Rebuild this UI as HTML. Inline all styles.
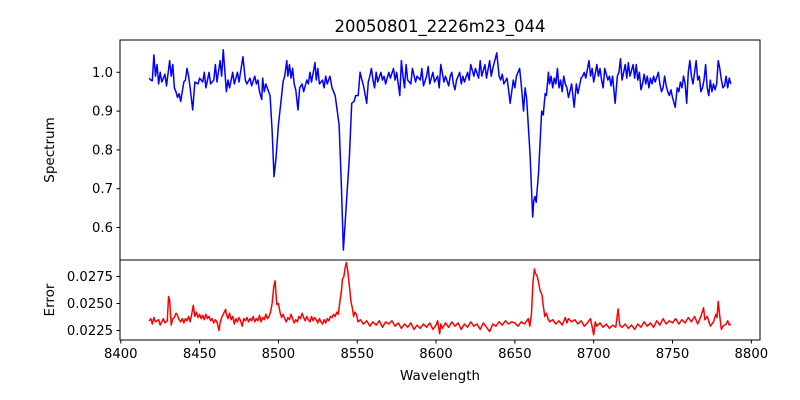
<!DOCTYPE html>
<html><head><meta charset="utf-8"><style>
html,body{margin:0;padding:0;background:#fff;}
svg{display:block;font-family:"DejaVu Sans","Liberation Sans",sans-serif;}
</style></head><body>
<svg id="chart" width="800" height="400" viewBox="0 0 800 400">
<rect width="800" height="400" fill="#fff"/>
<text x="440" y="32" font-size="16.5" text-anchor="middle">20050801_2226m23_044</text>
<g id="topPanel"></g>
<g id="botPanel"></g>
<text transform="translate(54,150) rotate(-90)" font-size="13.5" text-anchor="middle">Spectrum</text>
<text transform="translate(54,300) rotate(-90)" font-size="13.5" text-anchor="middle">Error</text>
<text x="440" y="380" font-size="13.5" text-anchor="middle">Wavelength</text>
</svg>
<script>
const fluxWl=[8418,8419,8420,8421,8422,8423,8424,8425,8426,8428,8429,8431,8432,8433,8434,8435,8436,8437,8438,8440,8441,8442,8443,8444,8445.6,8447,8449,8450,8452,8453,8454,8456,8457,8459,8460,8461,8463,8464,8465,8467,8468,8469,8471,8472,8474,8475,8477.5,8479,8480,8482,8483,8485,8486,8487,8488,8489.4,8490,8491,8492,8494.7,8496,8497.2,8498.5,8500,8501.5,8503,8504,8505.3,8506,8507,8508,8509,8510,8511,8512.4,8513.5,8515,8516,8518,8519,8520,8521,8523.2,8524,8525,8526,8528,8529,8530,8531,8532.7,8534,8536,8538.5,8540,8541.2,8542.3,8543.7,8545,8546.5,8548,8549,8550.6,8551.8,8553,8554,8556,8557,8558,8559,8560,8561,8562,8563,8565,8566,8567,8568,8570,8571,8573,8574,8575,8576,8577,8578,8579,8580,8581,8582,8584,8585,8587,8588,8590,8591,8592,8594,8595,8596,8598,8599,8601,8602,8603,8605,8606,8608,8609,8610,8611,8612,8613,8615,8616,8617,8618,8620,8621,8622,8624,8625,8627,8628,8629,8631,8632,8634,8635,8636,8638.5,8640,8641,8642,8643,8645,8646,8647,8649,8650,8651,8653,8654,8655.5,8656.5,8657.5,8659.6,8661.3,8662,8662.8,8663.5,8665,8667,8668,8669.2,8670,8671.3,8672,8673,8674,8675,8676,8677,8678,8679,8680,8681,8682,8683,8684,8686,8687.6,8689,8690,8692,8693,8694,8695,8697,8698,8699,8700,8702,8703,8704,8705,8706,8707,8709,8710,8711,8712,8713.6,8715,8716,8717,8718,8720,8721,8722,8723,8725,8726,8727,8728,8729,8730,8731,8732,8733,8734,8735,8736,8737,8738,8739,8741,8742,8743,8744,8745,8746,8747,8748,8749,8750,8751.7,8753,8754,8755,8756,8757,8758,8759,8760,8761,8762,8763,8764,8765,8766,8767,8768,8769,8770,8771,8772,8773,8774,8775,8776,8777,8778,8779,8780,8781,8782,8783,8784,8785,8786,8787];
const fluxVals=[.985,.98,.978,1.045,.99,1.02,.97,1.0,.975,.995,.965,1.03,.99,1.02,.96,.95,.935,.945,.925,.975,.98,1.01,.99,.96,.903,.975,.97,.985,.975,1.0,.96,1.0,.97,.98,1.02,.975,1.03,.99,1.058,.95,.98,.96,1.0,.97,1.0,.975,1.04,.98,.97,.985,.965,.99,.97,.98,.95,.93,.985,.95,.97,.94,.85,.731,.78,.865,.92,.977,.99,1.03,.99,1.02,.985,1.01,.97,.955,.903,.96,.97,.95,.98,.97,1.0,.975,1.025,.98,1.01,.97,.98,.96,.99,.97,.99,.96,.94,.865,.70,.542,.61,.70,.78,.92,.925,.94,.94,1.0,.98,.965,.92,.975,.99,1.01,.98,.96,1.0,.975,1.0,.98,.99,.97,1.0,.985,1.01,.98,1.0,.97,.94,1.03,.99,.96,1.02,.98,.97,1.01,.975,.99,.98,1.01,.965,.99,1.015,.97,1.0,.975,.99,.96,1.02,.975,.99,.965,.99,1.0,.97,.955,.98,1.0,.97,.99,.975,1.0,.98,1.02,.99,1.01,.985,1.03,.99,1.02,.985,1.03,.99,1.01,1.05,.99,.98,.995,.97,.985,.955,.92,.98,.96,.99,1.01,.97,.90,.96,.93,.79,.627,.67,.68,.665,.74,.90,.89,.945,.94,1.0,.97,.99,.96,.985,.97,1.01,.96,.98,.95,.99,.97,.96,.935,.97,.91,.97,.945,.985,.99,1.0,.985,1.03,.99,1.01,.975,1.02,.99,1.01,.98,.96,1.01,.98,.99,.965,.99,.92,.99,1.0,1.035,.98,1.02,.985,1.025,.99,1.02,.985,1.02,.98,1.0,.955,.97,.995,.97,.99,.96,.985,.97,.99,.975,1.0,.97,.95,.96,.99,.965,.95,.94,.955,.935,.91,.96,.95,.975,.96,.99,.97,.92,1.0,1.03,.99,.97,1.0,1.03,.98,.99,.95,.96,.98,1.02,.96,.94,.98,.95,.97,.955,.97,1.03,1.01,.98,.96,.965,.99,.96,.985,.97];
const errWl=[8418,8419,8420,8421,8422,8424,8425,8427,8428,8429.5,8430.3,8431,8432,8433,8434,8435,8436,8437,8438,8439,8440,8441,8442,8443,8444,8445,8446,8447,8448,8449,8450,8451,8452,8453,8454,8455,8456,8457,8458,8459,8460,8461,8462.3,8463,8464,8465,8466.5,8467,8468,8469,8470,8471,8472,8473,8474,8475,8476,8477,8478,8479,8480,8481,8482,8483,8484,8485,8486,8487,8488,8489,8490,8491,8492,8493,8494,8495,8496,8497,8497.9,8498.5,8499,8500,8501,8502,8503,8504,8505,8506,8507,8508,8509,8510,8511,8512,8513,8514,8515,8516,8517,8518,8519,8520,8521,8522,8523,8524,8525,8526,8527,8528,8529,8530,8531,8532,8533,8534,8535,8536,8537,8538,8539,8540,8540.6,8541.5,8542.3,8543.1,8544,8545.1,8546,8547,8547.7,8548.5,8549.5,8550.5,8552,8554,8556,8558,8560,8562,8564,8566,8568,8570,8572,8574,8576,8578,8580,8582,8584,8586,8588,8590,8592,8594,8596,8598,8600,8601,8602.3,8603,8604,8606,8608,8610,8612,8614,8616,8618,8620,8622,8624,8626,8628,8630,8632,8634,8636,8638,8640,8642,8644,8646,8648,8650,8652,8654,8656,8657.5,8658.6,8659.5,8660.5,8661.5,8662.4,8663,8664,8665,8666,8667.2,8668,8669,8670,8671,8672,8674,8676,8678,8680,8682,8683,8684,8686,8688,8690,8692,8694,8696,8698,8700,8701,8702,8704,8706,8708,8710,8712,8714,8715.5,8716.5,8718,8720,8722,8724,8726,8728,8730,8732,8734,8736,8738,8740,8742,8744,8746,8748,8750,8752,8754,8756,8758,8760,8762,8764,8766,8768,8769.7,8770.5,8772,8774,8776,8777.5,8778.2,8779,8780,8781,8782,8784,8785,8786,8787];
const errVals=[.02339,.0236,.0231,.0237,.0233,.0235,.0230,.0236,.0232,.0234,.02565,.0253,.0230,.0236,.0237,.0241,.0239,.0235,.0233,.0236,.0232,.0236,.0234,.0238,.0233,.0240,.02484,.0238,.0242,.0237,.0240,.0236,.0239,.0235,.0240,.0236,.0238,.0234,.0236,.0232,.0235,.0233,.0225,.0232,.0237,.0240,.02447,.0240,.0236,.0241,.0235,.0238,.0231,.0236,.0233,.0237,.0234,.0229,.0236,.0234,.0237,.0233,.0236,.0234,.0238,.0233,.0236,.0234,.0239,.0233,.0237,.0235,.0240,.0236,.0238,.0242,.0250,.0265,.0271,.0258,.0249,.0250,.0242,.0237,.0240,.0236,.0233,.0237,.0235,.0240,.0236,.0232,.0235,.0233,.0238,.0236,.0241,.0237,.0234,.0238,.0235,.0233,.0238,.0234,.0237,.0235,.0232,.0236,.0233,.0231,.0235,.0232,.0236,.0234,.0238,.0237,.0240,.0238,.0242,.0240,.0252,.0262,.02725,.0275,.0283,.0288,.0280,.0265,.0252,.0245,.0238,.0242,.0240,.0233,.0235,.0231,.0234,.0229,.0233,.0230,.0234,.0228,.0233,.0231,.0234,.0229,.0232,.0227,.0231,.0228,.0232,.0226,.0230,.0227,.0231,.0228,.0232,.0226,.0230,.0234,.0222,.0231,.0227,.0232,.0228,.0233,.0229,.0232,.0226,.0231,.0228,.0233,.0229,.0231,.0226,.0232,.0228,.0224,.0231,.0229,.0233,.0230,.0234,.0231,.0233,.0232,.0229,.0233,.0231,.0234,.0236,.0229,.0240,.0270,.0282,.0278,.0276,.0270,.0262,.0258,.0248,.0238,.0241,.0236,.0233,.0235,.0231,.0234,.0230,.0237,.0232,.0236,.0233,.0235,.0231,.0234,.0229,.0232,.0236,.0221,.0233,.0229,.0232,.0228,.0231,.0227,.0230,.0228,.0245,.0230,.0228,.0231,.0227,.0230,.0226,.0231,.0228,.0233,.0229,.0232,.0228,.0234,.0230,.0236,.0231,.0234,.0232,.0236,.0231,.0235,.0232,.0237,.0233,.0238,.0231,.0238,.0246,.0235,.0238,.0229,.0233,.0240,.0237,.0252,.0238,.0226,.0229,.0231,.0234,.0230,.0231];
const xTicks=[8400,8450,8500,8550,8600,8650,8700,8750,8800];
const topTicks=[0.6,0.7,0.8,0.9,1.0];
const botTicks=[0.0225,0.0250,0.0275];
const botTickLabels=["0.0225","0.0250","0.0275"];

const NS="http://www.w3.org/2000/svg";
const L=120,R=760;
const xMin=8399.5,xMax=8805.5;
const xs=w=>L+(w-xMin)/(xMax-xMin)*(R-L);
const yTop=v=>72.3-(v-1.0)*388;
const yBot=v=>303.5-(v-0.025)*10800;
function mk(tag,attrs,parent){const e=document.createElementNS(NS,tag);for(const k in attrs)e.setAttribute(k,attrs[k]);parent.appendChild(e);return e;}
const gTop=document.getElementById('topPanel'),gBot=document.getElementById('botPanel');
function pathFor(ws,vs,yf){const n=Math.min(ws.length,vs.length);let s='';for(let i=0;i<n;i++){s+=(i?'L':'M')+xs(ws[i]).toFixed(2)+' '+yf(vs[i]).toFixed(2);}return s;}

const p1=mk('path',{d:pathFor(fluxWl,fluxVals,yTop),fill:'none',stroke:'#0000ff','stroke-width':1.5,'stroke-linejoin':'round'},gTop);


const p2=mk('path',{d:pathFor(errWl,errVals,yBot),fill:'none',stroke:'#ff0000','stroke-width':1.5,'stroke-linejoin':'round'},gBot);



const f1=mk('rect',{x:L,y:40,width:R-L,height:220,fill:'none',stroke:'#000','stroke-width':1},gTop);


const f2=mk('rect',{x:L,y:260,width:R-L,height:80,fill:'none',stroke:'#000','stroke-width':1},gBot);



topTicks.forEach(v=>{const y=yTop(v);
 mk('line',{x1:L-3.5,x2:L,y1:y,y2:y,stroke:'#000'},gTop);
 const t=mk('text',{x:L-7,y:y+4.5,'font-size':13.2,'text-anchor':'end'},gTop);t.textContent=v.toFixed(1);
 
 });
botTicks.forEach((v,i)=>{const y=yBot(v);
 mk('line',{x1:L-3.5,x2:L,y1:y,y2:y,stroke:'#000'},gBot);
 const t=mk('text',{x:L-7,y:y+4.5,'font-size':13.2,'text-anchor':'end'},gBot);t.textContent=botTickLabels[i];
 
 });
xTicks.forEach(v=>{const xx=xs(v);
 mk('line',{x1:xx,x2:xx,y1:340,y2:343.5,stroke:'#000'},gBot);
 const t=mk('text',{x:xx,y:358,'font-size':13.2,'text-anchor':'middle'},gBot);t.textContent=v;
 
 });
</script>
</body></html>
